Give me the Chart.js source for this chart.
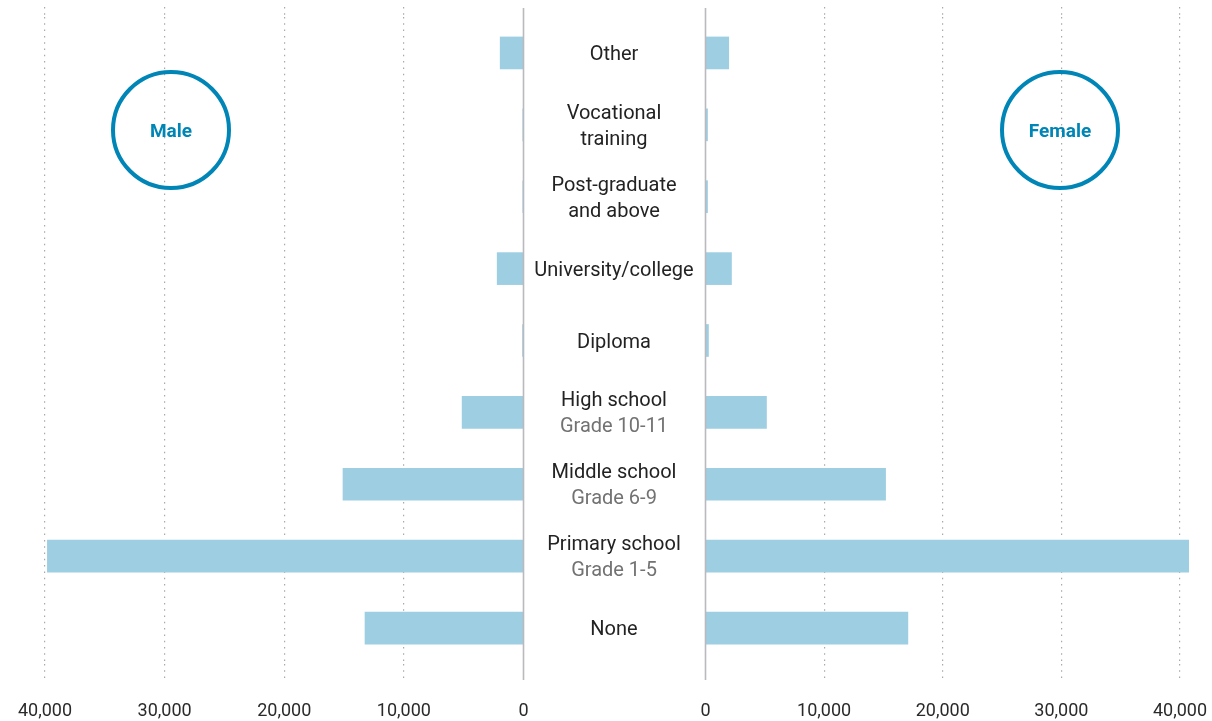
<!DOCTYPE html>
<html>
<head>
<meta charset="utf-8">
<script src="https://cdn.jsdelivr.net/npm/chart.js@4"></script>
<style>
  body { margin: 0; background: #fff; }
  #wrap { position: relative; width: 1212px; height: 721px; overflow: hidden; }
  #wrap canvas { position: absolute; left: 0; top: 0; }
  .badge {
    position: absolute; width: 112px; height: 112px; border: 4px solid #0085b7;
    border-radius: 50%; display: flex; align-items: center; justify-content: center;
    font-family: Roboto, sans-serif; font-weight: bold; font-size: 19px; color: #0085b7;
  }
</style>
</head>
<body>
<div id="wrap">
  <canvas id="maleChart" width="1300" height="743"></canvas>
  <canvas id="femaleChart" width="1300" height="743"></canvas>
  <div class="badge" style="left:111px;top:70px;">Male</div>
  <div class="badge" style="left:1000px;top:70px;">Female</div>
</div>
<script>
// education levels, top to bottom
var categories = ["Other", "Vocational training", "Post-graduate and above", "University/college",
  "Diploma", "High school", "Middle school", "Primary school", "None"];
var labelLines = [["Other"], ["Vocational", "training"], ["Post-graduate", "and above"], ["University/college"],
  ["Diploma"], ["High school"], ["Middle school"], ["Primary school"], ["None"]];
var gradeLines = ["", "", "", "", "", "Grade 10-11", "Grade 6-9", "Grade 1-5", ""];

var maleValues = [1950, 60, 60, 2200, 80, 5130, 15090, 39800, 13250];
var femaleValues = [1960, 170, 170, 2190, 250, 5140, 15180, 40730, 17060];

var xTicks = [0, 10000, 20000, 30000, 40000];

var barColor = "rgb(157,206,226)";
var gridColor = "#a9a9a9";

function gridLineColor(ctx) {
  // zero line is drawn solid by the plugin below
  return ctx.tick && ctx.tick.value === 0 ? "rgba(0,0,0,0)" : gridColor;
}

var zeroLine = {
  id: "zeroLine",
  afterDatasetsDraw: function (chart) {
    var ctx = chart.ctx;
    var x = chart.scales.x.getPixelForValue(0);
    ctx.save();
    ctx.strokeStyle = "rgb(186,186,190)";
    ctx.lineWidth = 1.6;
    ctx.beginPath();
    ctx.moveTo(x, 8);
    ctx.lineTo(x, 680);
    ctx.stroke();
    ctx.restore();
  }
};

var centerLabels = {
  id: "centerLabels",
  afterDraw: function (chart) {
    var ctx = chart.ctx;
    var yScale = chart.scales.y;
    var cx = 614;
    ctx.save();
    ctx.textAlign = "center";
    ctx.textBaseline = "middle";
    ctx.font = "20px Roboto, sans-serif";
    for (var i = 0; i < categories.length; i++) {
      var lines = labelLines[i].slice();
      var colors = lines.map(function () { return "#232323"; });
      if (gradeLines[i]) { lines.push(gradeLines[i]); colors.push("#727272"); }
      var y = yScale.getPixelForValue(i) + 2 - (lines.length - 1) * 13;
      for (var j = 0; j < lines.length; j++) {
        ctx.fillStyle = colors[j];
        ctx.fillText(lines[j], cx, y + j * 26);
      }
    }
    ctx.restore();
  }
};

function makeChart(id, values, reverse, padLeft, padRight, extraPlugins) {
  var xOpts = {
    type: "linear", min: 0, max: 40000, reverse: reverse,
    afterBuildTicks: function (axis) { axis.ticks = xTicks.map(function (v) { return { value: v }; }); },
    border: { display: false, dash: [1.5, 4.8] },
    grid: { color: gridLineColor, lineWidth: 1.2, tickLength: 16, tickBorderDash: [1.5, 4.8] },
    ticks: {
      padding: 22, color: "#2a2a2a",
      font: { family: "Roboto, sans-serif", size: 18, lineHeight: 1 },
      callback: function (v) { return v.toLocaleString("en-US"); }
    }
  };
  var topOpts = {
    type: "linear", position: "top", min: 0, max: 40000, reverse: reverse,
    afterBuildTicks: function (axis) { axis.ticks = xTicks.map(function (v) { return { value: v }; }); },
    border: { display: false, dash: [1.5, 4.8] },
    grid: { color: gridLineColor, lineWidth: 1.2, drawOnChartArea: false, tickLength: 10, tickBorderDash: [1.5, 4.8] },
    ticks: { display: false }
  };
  return new Chart(document.getElementById(id).getContext("2d"), {
    type: "bar",
    data: {
      labels: categories,
      datasets: [{ data: values, backgroundColor: barColor, barThickness: 32, borderWidth: 0, clip: false }]
    },
    options: {
      responsive: false,
      animation: false,
      indexAxis: "y",
      layout: { autoPadding: false, padding: { left: padLeft, right: padRight, top: 7, bottom: 1 } },
      plugins: { legend: { display: false }, tooltip: { enabled: false } },
      scales: {
        x: xOpts,
        xTop: topOpts,
        y: { display: false }
      }
    },
    plugins: [zeroLine].concat(extraPlugins)
  });
}

makeChart("maleChart", maleValues, true, 45, 1300 - 523.5, [centerLabels]);
makeChart("femaleChart", femaleValues, false, 705.5, 1300 - 1180, []);
</script>
</body>
</html>
